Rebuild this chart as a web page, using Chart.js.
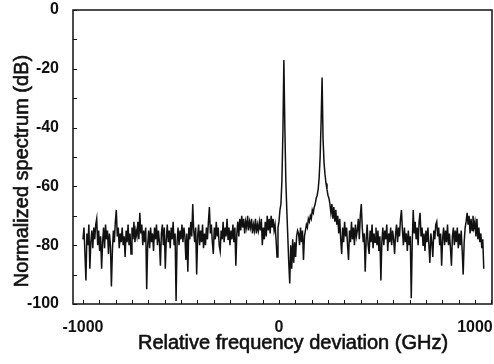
<!DOCTYPE html>
<html><head><meta charset="utf-8">
<script src="https://cdn.jsdelivr.net/npm/chart.js@4/dist/chart.umd.min.js"></script>
<style>html,body{margin:0;padding:0;background:#fff}#wrap{width:494px;height:364px}</style>
</head><body><div id="wrap"><canvas id="c" width="494" height="364"></canvas></div>
<script>
const xTitle = 'Relative frequency deviation (GHz)';
const yTitle = 'Normalized spectrum (dB)';
const xLabelValues = [-1000, 0, 1000];
const yLabelValues = [0, -20, -40, -60, -80, -100];
const stepGHz = 5;

const leftStart = -1000;
const leftDb = [
 -78,-74,-83,-92,-76,-80,-73,-88,-79,-75,-81,-74,-78,-73,-71,-80,-75,-82,-77,-88,
 -79,-74,-81,-73,-78,-75,-83,-76,-80,-94,-82,-75,-79,-72,-68,-77,-74,-81,-76,-79,
 -74,-80,-77,-84,-75,-79,-73,-80,-76,-83,-74,-78,-72,-79,-75,-77,-72,-78,-69,-76,
 -73,-80,-75,-79,-74,-95,-80,-75,-81,-74,-79,-76,-82,-74,-78,-73,-80,-75,-79,-87,
 -76,-73,-80,-74,-88,-78,-73,-79,-75,-81,-74,-78,-72,-80,-76,-99,-79,-74,-80,-75,
 -78,-73,-79,-74,-77,-85,-76,-89,-74,-78,-72,-77,-66,-75,-79,-74,-90,-77,-73,-80,
 -75,-79,-73,-81,-76,-80,-74,-78,-72,-67,-76,-73,-79,-83,-74,-78,-72,-77,-74,-80,
 -82,-75,-78,-72,-79,-74,-77,-71,-78,-74,-80,-75,-78,-73,-79,-74,-87,-76,-72,-77,
 -71,-75,-70,-74,-71,-76,-72,-74,-70,-75,-72,-74,-71,-76,-73,-75,-71,-76,-73,-75,
 -72,-75,-71,-80,-74,-78,-72,-77,-70,-75,-71,-76,-70,-74,-71,-75,-73,-78,-84,-74
];

const peakStart = 0;
const peakDb = [
 -72,-68,-66,-58,-42,-17,-40,-58,-68,-77,-86,-93,-80,-88,-78,-86,-79,-84,-77,-75,
 -76,-80,-74,-79,-75,-85,-77,-75,-73,-74,-71,-72,-70,-71,-68,-69,-67,-66,-64,-63,
 -61,-57,-50,-38,-23,-44,-52,-56,-59,-61,-63,-64,-66,-69,-66,-71,-67,-72,-68,-73
];

const rightStart = 300;
const rightDb = [
 -70,-76,-71,-78,-83,-74,-79,-72,-77,-74,-80,-85,-75,-79,-72,-78,-74,-80,-73,-77,
 -75,-71,-78,-70,-66,-74,-79,-76,-89,-78,-73,-80,-83,-75,-79,-73,-81,-76,-79,-74,
 -80,-75,-82,-77,-92,-79,-74,-80,-75,-78,-73,-82,-76,-79,-74,-80,-75,-78,-83,-76,
 -73,-79,-74,-77,-71,-68,-75,-80,-74,-79,-76,-82,-75,-80,-77,-98,-79,-68,-76,-72,
 -78,-74,-80,-72,-69,-77,-74,-80,-76,-82,-75,-79,-74,-80,-86,-76,-79,-84,-75,-78,
 -73,-72,-77,-74,-80,-76,-87,-78,-74,-80,-75,-79,-73,-80,-76,-81,-87,-77,-74,-80,
 -75,-79,-74,-81,-76,-80,-75,-82,-90,-79,-74,-72,-69,-73,-70,-76,-71,-75,-70,-74,
 -72,-77,-71,-78,-74,-79,-76,-81,-78,-88
];

function toPoints(start, arr) {
  return arr.map((v, i) => ({ x: start + i * stepGHz, y: v }));
}
const points = [].concat(toPoints(leftStart, leftDb), toPoints(peakStart, peakDb), toPoints(rightStart, rightDb));

const xTickValues = [];
for (let k = -12; k <= 13; k++) xTickValues.push(k * 1000 / 12);

const FONT = '"Liberation Sans", Arial, sans-serif';
const INK = '#111111';

function zeroPad(s) { s.paddingLeft = 0; s.paddingRight = 0; s.paddingTop = 0; s.paddingBottom = 0; }

const frame = {
  id: 'frame',
  afterDraw(chart) {
    const { ctx, chartArea: a, scales: { x, y } } = chart;
    ctx.save();
    ctx.strokeStyle = INK;
    ctx.lineWidth = 1.5;
    ctx.strokeRect(a.left, a.top, a.right - a.left, a.bottom - a.top);
    ctx.lineWidth = 1;
    ctx.beginPath();
    x.ticks.forEach(t => {
      const px = Math.round(x.getPixelForValue(t.value)) + 0.5;
      ctx.moveTo(px, a.bottom); ctx.lineTo(px, a.bottom - 4);
    });
    y.ticks.forEach(t => {
      const py = Math.round(y.getPixelForValue(t.value)) + 0.5;
      ctx.moveTo(a.left, py); ctx.lineTo(a.left + 4, py);
    });
    ctx.stroke();
    ctx.fillStyle = INK;
    ctx.strokeStyle = INK;
    ctx.lineWidth = 0.6;
    ctx.font = '20px ' + FONT;
    ctx.textAlign = 'center';
    ctx.textBaseline = 'middle';
    ctx.fillText(xTitle, 293, 343);
    ctx.strokeText(xTitle, 293, 343);
    ctx.translate(22, 171);
    ctx.rotate(-Math.PI / 2);
    ctx.fillText(yTitle, 0, 0);
    ctx.strokeText(yTitle, 0, 0);
    ctx.restore();
  }
};

new Chart(document.getElementById('c'), {
  type: 'line',
  data: {
    datasets: [{
      data: points,
      borderColor: INK,
      borderWidth: 1.5,
      pointRadius: 0,
      tension: 0,
      fill: false
    }]
  },
  options: {
    responsive: false,
    animation: false,
    devicePixelRatio: 1,
    layout: { padding: { left: 0, right: 2, top: 10, bottom: 0 } },
    plugins: { legend: { display: false }, tooltip: { enabled: false } },
    scales: {
      x: {
        type: 'linear',
        min: -1051,
        max: 1087,
        afterBuildTicks: s => { s.ticks = xTickValues.map(v => ({ value: v })); },
        afterFit: s => { s.height = 60; zeroPad(s); },
        grid: { display: false },
        border: { display: false },
        ticks: {
          autoSkip: false, maxRotation: 0, padding: 6,
          color: INK, font: { family: FONT, size: 16, weight: 'bold' },
          callback: v => xLabelValues.includes(v) ? String(v) : ''
        }
      },
      y: {
        min: -100,
        max: 0,
        afterFit: s => { s.width = 73; zeroPad(s); },
        grid: { display: false },
        border: { display: false },
        ticks: {
          stepSize: 10, autoSkip: false, padding: 6,
          color: INK, font: { family: FONT, size: 16, weight: 'bold' },
          callback: v => yLabelValues.includes(v) ? String(v) : ''
        }
      }
    }
  },
  plugins: [frame]
});
</script>
</body></html>
